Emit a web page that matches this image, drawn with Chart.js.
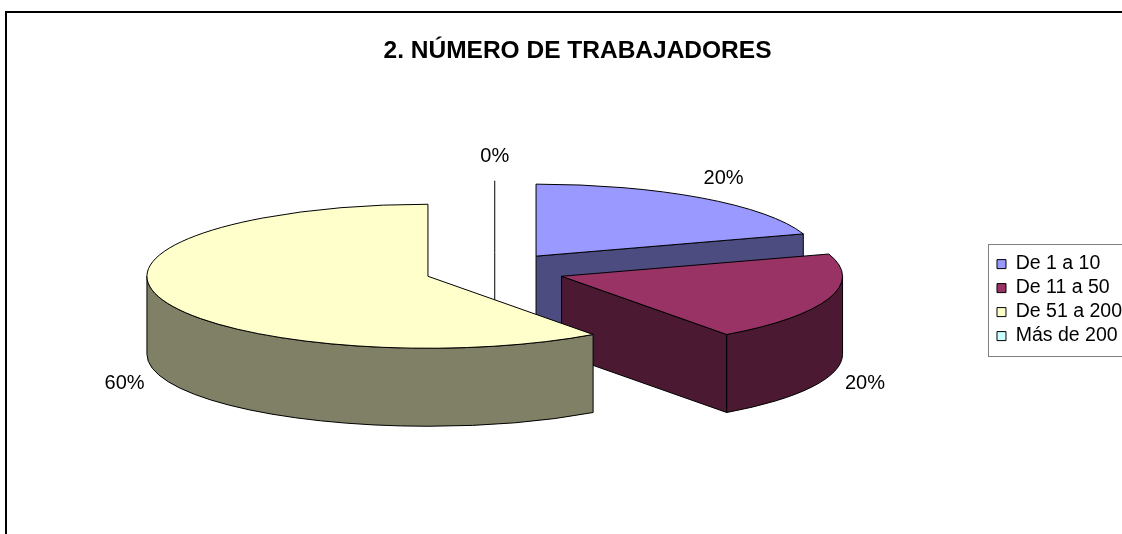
<!DOCTYPE html>
<html>
<head>
<meta charset="utf-8">
<script src="https://cdn.jsdelivr.net/npm/chart.js@4.4.0/dist/chart.umd.min.js"></script>
<style>
  html, body { margin: 0; padding: 0; background: #fff; overflow: hidden; width: 1122px; height: 534px; }
  #frame { position: absolute; left: 5px; top: 11px; width: 1140px; height: 560px; border: 2px solid #000; }
  canvas { display: block; }
</style>
</head>
<body>
<div id="frame"><canvas id="chart" width="1140" height="560"></canvas></div>
<script>
// ---- data ----
const categories = ['De 1 a 10', 'De 11 a 50', 'De 51 a 200', 'Más de 200'];
const shares = [20, 20, 60, 0];   // % of companies

// ---- styles ----
const FONT = "'Liberation Sans', Arial, sans-serif";
const topColors = ['#9999FF', '#993366', '#FFFFCC', '#CCFFFF'];
const sideColors = ['#4C4C80', '#4C1933', '#808066', '#668080'];

function ellipsePt(c, a, g) {
    return { x: c.x + g.rx * Math.cos(a), y: c.y + g.ry * Math.sin(a) };
}

// draws one exploded slice: visible walls first, then the top face
function drawSlice(ctx, s, g) {
    const { p, c } = s;
    const a0 = p.startAngle, a1 = p.endAngle;
    const side = sideColors[s.i];
    ctx.save();
    ctx.lineWidth = 1;
    ctx.strokeStyle = '#000';
    ctx.lineJoin = 'round';

    if (a1 - a0 < 1e-6) {
        // empty slice: only its edge is left, seen as a line
        const e = ellipsePt(c, a0, g);
        ctx.beginPath();
        ctx.moveTo(e.x, e.y);
        ctx.lineTo(c.x, c.y);
        ctx.lineTo(c.x, c.y + g.d);
        ctx.stroke();
        ctx.restore();
        return;
    }

    // cut faces that turn towards the viewer
    [[a0, Math.cos(a0) < -1e-3], [a1, Math.cos(a1) > 1e-3]].forEach(([a, vis]) => {
        if (!vis) return;
        const e = ellipsePt(c, a, g);
        ctx.beginPath();
        ctx.moveTo(c.x, c.y);
        ctx.lineTo(e.x, e.y);
        ctx.lineTo(e.x, e.y + g.d);
        ctx.lineTo(c.x, c.y + g.d);
        ctx.closePath();
        ctx.fillStyle = side;
        ctx.fill();
        ctx.stroke();
    });

    // outer wall, front half only
    for (let k = -1; k <= 2; k++) {
        const lo = Math.max(a0, 2 * Math.PI * k);
        const hi = Math.min(a1, 2 * Math.PI * k + Math.PI);
        if (hi - lo < 1e-6) continue;
        ctx.beginPath();
        ctx.ellipse(c.x, c.y, g.rx, g.ry, 0, lo, hi, false);
        ctx.ellipse(c.x, c.y + g.d, g.rx, g.ry, 0, hi, lo, true);
        ctx.closePath();
        ctx.fillStyle = side;
        ctx.fill();
        ctx.stroke();
    }

    // top face: the library's own arc, laid onto the tilted plane
    ctx.save();
    ctx.translate(c.x, c.y);
    ctx.scale(g.rx / p.outerRadius, g.ry / p.outerRadius);
    ctx.translate(-p.x, -p.y);
    s.arc.draw(ctx);
    ctx.restore();

    ctx.beginPath();
    ctx.moveTo(c.x, c.y);
    ctx.ellipse(c.x, c.y, g.rx, g.ry, 0, a0, a1, false);
    ctx.closePath();
    ctx.stroke();
    ctx.restore();
}

const pie3d = {
    id: 'pie3d',
    beforeDatasetsDraw(chart, args, opts) {
        const ctx = chart.ctx;
        const arcs = chart.getDatasetMeta(0).data;
        const values = chart.data.datasets[0].data;
        const total = values.reduce((a, b) => a + b, 0);
        const g = { rx: opts.radiusX, ry: opts.radiusY, d: opts.depth };

        const slices = arcs.map((arc, i) => {
            const p = arc.getProps(['x', 'y', 'startAngle', 'endAngle', 'outerRadius'], true);
            const mid = (p.startAngle + p.endAngle) / 2;
            const c = {
                x: p.x + opts.explode * g.rx * Math.cos(mid),
                y: p.y + opts.explode * g.ry * Math.sin(mid)
            };
            // lowest point of the top face decides the drawing order
            let maxY = c.y;
            for (let k = 0; k <= 36; k++) {
                const a = p.startAngle + (p.endAngle - p.startAngle) * k / 36;
                maxY = Math.max(maxY, c.y + g.ry * Math.sin(a));
            }
            return { arc, i, p, mid, c, maxY };
        });

        slices.slice().sort((a, b) => a.maxY - b.maxY).forEach(s => drawSlice(ctx, s, g));

        // percentage labels outside the pie
        ctx.save();
        ctx.font = `${opts.labelSize}px ${FONT}`;
        ctx.fillStyle = '#000';
        ctx.textAlign = 'center';
        ctx.textBaseline = 'middle';
        slices.forEach(s => {
            const m = s.mid;
            const x = s.c.x + (g.rx + opts.labelGapX) * Math.cos(m);
            let y = s.c.y + (g.ry + opts.labelGapY) * Math.sin(m);
            if (Math.sin(m) > 0) y += g.d;
            ctx.fillText(Math.round(values[s.i] / total * 100) + '%', x, y);
        });
        ctx.restore();
        return false;
    }
};

// grey box round the legend, as in the original
const legendFrame = {
    id: 'legendFrame',
    afterDraw(chart) {
        const lg = chart.legend;
        const hb = lg.legendHitBoxes;
        if (!hb || !hb.length) return;
        const ctx = chart.ctx;
        const last = hb[hb.length - 1];
        const top = Math.round(hb[0].top - 10) + 0.5;
        const bottom = Math.round(last.top + last.height + 10) + 0.5;
        const left = Math.round(hb[0].left - 9) + 0.5;
        ctx.save();
        ctx.strokeStyle = '#808080';
        ctx.lineWidth = 1;
        ctx.strokeRect(left, top, chart.width + 40 - left, bottom - top);
        ctx.restore();
    }
};

// small nudges after layout: title centred on the whole frame,
// plot a little left of the space the legend leaves
const layoutNudge = {
    id: 'layoutNudge',
    afterLayout(chart, args, opts) {
        const t = chart.titleBlock;
        if (t) {
            t.left += opts.titleDx;
            t.right += opts.titleDx;
        }
        chart.chartArea.left += opts.plotDx;
        chart.chartArea.right += opts.plotDx;
    }
};

const baseLabels = Chart.overrides.doughnut.plugins.legend.labels.generateLabels;

new Chart(document.getElementById('chart'), {
    type: 'pie',
    data: {
        labels: categories,
        datasets: [{
            data: shares,
            backgroundColor: topColors,
            borderWidth: 0,
            offset: 0
        }]
    },
    options: {
        responsive: false,
        animation: false,
        events: [],
        layout: { padding: { left: 0, right: 15, top: 0, bottom: 108 } },
        plugins: {
            title: {
                display: true,
                text: '2. NÚMERO DE TRABAJADORES',
                color: '#000',
                font: { family: FONT, size: 24.5, weight: 'bold' },
                padding: { top: 24, bottom: 10 }
            },
            legend: {
                position: 'right',
                title: { display: true, text: '', font: { size: 1 }, padding: { top: 121, bottom: 0 } },
                labels: {
                    boxWidth: 9,
                    boxHeight: 9,
                    padding: 4.5,
                    color: '#000',
                    font: { family: FONT, size: 19.5 },
                    generateLabels(chart) {
                        return baseLabels(chart).map(l => Object.assign(l, { strokeStyle: '#000', lineWidth: 1 }));
                    }
                }
            },
            tooltip: { enabled: false },
            layoutNudge: { titleDx: 8, plotDx: -5 },
            pie3d: {
                radiusX: 281,
                radiusY: 72,
                depth: 78,
                explode: 0.25,
                labelSize: 20,
                labelGapX: 38,
                labelGapY: 24
            }
        }
    },
    plugins: [pie3d, legendFrame, layoutNudge]
});
</script>
</body>
</html>
